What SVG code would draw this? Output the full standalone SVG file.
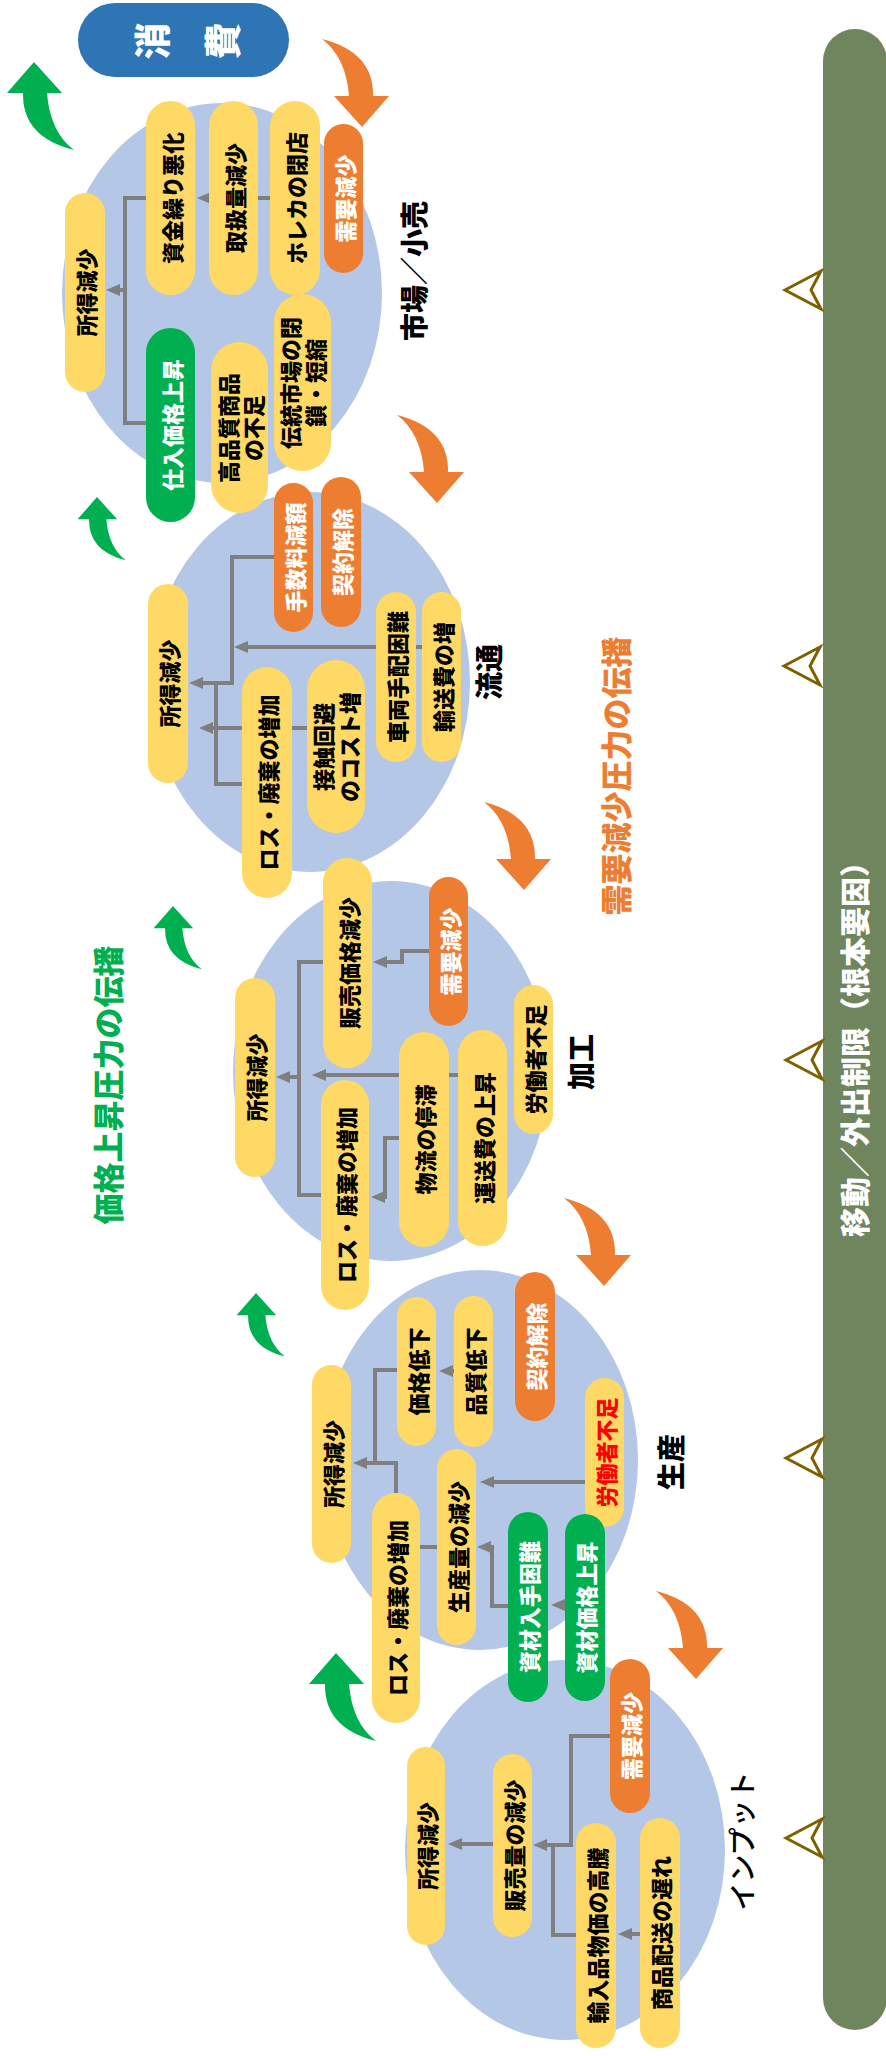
<svg xmlns="http://www.w3.org/2000/svg" width="886" height="2056" viewBox="0 0 886 2056">
  <style>
    .bg { fill: #B4C7E7; }
    .y { fill: #FFD966; }
    .o { fill: #ED7D31; }
    .g { fill: #00B050; }
    .t { font-family: "Noto Sans CJK JP", "Noto Sans", sans-serif; font-weight: 900; font-size: 22px; text-anchor: middle; dominant-baseline: central; }
    .k { fill: #000000; }
    .w { fill: #FFFFFF; }
    .r { fill: #FF0000; }
    .stage { font-family: "Noto Sans CJK JP", "Noto Sans", sans-serif; font-weight: 900; font-size: 28px; text-anchor: middle; dominant-baseline: central; fill: #000000; }
    .conn { fill: none; stroke: #7F7F7F; stroke-width: 4; stroke-linejoin: miter; }
    .tri { fill: #FFFFFF; stroke: #7F6000; stroke-width: 3; stroke-linejoin: miter; }
  </style>
  <defs>
    <marker id="ah" markerUnits="userSpaceOnUse" markerWidth="14" markerHeight="12" viewBox="0 0 14 12" refX="6" refY="6" orient="auto">
      <path d="M0,0 L14,6 L0,12 Z" fill="#7F7F7F"/>
    </marker>
    <!-- curved block arrow, tip at origin, tail sweeping down-right -->
    <path id="curl" d="M0,0 L28,31 L13,31 Q16,70 40,88 Q-12,75 -11,31 L-27,31 Z"/>
    <path id="dart" d="M0,0 L36,-19 L26,0 L36,19 Z"/>
  </defs>

  <!-- root cause bar -->
  <g id="root-cause">
    <rect x="823" y="29" width="64" height="2001" rx="32" fill="#6E855E"/>
    <text class="t w" x="853" y="1042" transform="rotate(-90 853 1042)" style="font-size:30px">移動／外出制限（根本要因）</text>
  </g>
  <g id="impact-marks">
    <use href="#dart" class="tri" x="785" y="290"/>
    <use href="#dart" class="tri" x="784" y="666"/>
    <use href="#dart" class="tri" x="786" y="1060"/>
    <use href="#dart" class="tri" x="786" y="1458"/>
    <use href="#dart" class="tri" x="786" y="1838"/>
  </g>

  <!-- stage backgrounds -->
  <g id="stages">
    <ellipse class="bg" cx="222" cy="293" rx="160" ry="190"/>
    <ellipse class="bg" cx="310" cy="682" rx="160" ry="190"/>
    <ellipse class="bg" cx="391" cy="1071" rx="158" ry="190"/>
    <ellipse class="bg" cx="480" cy="1460" rx="158" ry="190"/>
    <ellipse class="bg" cx="565" cy="1850" rx="160" ry="190"/>
  </g>

  <!-- propagation arrows -->
  <g id="demand-arrows" fill="#ED7D31">
    <use href="#curl" transform="translate(362,127) rotate(180)"/>
    <use href="#curl" transform="translate(437,503) rotate(180)"/>
    <use href="#curl" transform="translate(524,890) rotate(180)"/>
    <use href="#curl" transform="translate(604,1286) rotate(180)"/>
    <use href="#curl" transform="translate(696,1679) rotate(180)"/>
  </g>
  <g id="price-arrows" fill="#00B050">
    <use href="#curl" transform="translate(34,62)"/>
    <use href="#curl" transform="translate(97,497) scale(0.72)"/>
    <use href="#curl" transform="translate(173,906) scale(0.72)"/>
    <use href="#curl" transform="translate(256,1293) scale(0.72)"/>
    <use href="#curl" transform="translate(336,1653)"/>
  </g>

  <g id="legend-demand">
    <text class="t" x="614" y="776" transform="rotate(-90 614 776)" style="font-size:31px;fill:#ED7D31">需要減少圧力の伝播</text>
  </g>
  <g id="legend-price">
    <text class="t" x="106" y="1085" transform="rotate(-90 106 1085)" style="font-size:31px;fill:#00B050">価格上昇圧力の伝播</text>
  </g>

  <!-- connectors -->
  <g id="connectors">
    <path class="conn" d="M270,198 H205" marker-end="url(#ah)"/>
    <path class="conn" d="M146,198 H125 V423 H146"/>
    <path class="conn" d="M125,290 H114" marker-end="url(#ah)"/>
    <path class="conn" d="M274,557 H232 V683 H197" marker-end="url(#ah)"/>
    <path class="conn" d="M422,647 H242" marker-end="url(#ah)"/>
    <path class="conn" d="M242,784 H216 V683"/>
    <path class="conn" d="M307,728 H207" marker-end="url(#ah)"/>
    <path class="conn" d="M429,951 H402 V962 H381" marker-end="url(#ah)"/>
    <path class="conn" d="M323,962 H299 V1195 H321"/>
    <path class="conn" d="M299,1077 H284" marker-end="url(#ah)"/>
    <path class="conn" d="M458,1075 H320" marker-end="url(#ah)"/>
    <path class="conn" d="M399,1138 H385 V1197 H379" marker-end="url(#ah)"/>
    <path class="conn" d="M454,1371 H447" marker-end="url(#ah)"/>
    <path class="conn" d="M397,1370 H375 V1463 H361" marker-end="url(#ah)"/>
    <path class="conn" d="M396,1493 V1463 H375"/>
    <path class="conn" d="M585,1482 H488" marker-end="url(#ah)"/>
    <path class="conn" d="M420,1547 H437"/>
    <path class="conn" d="M508,1606 H492 V1547 H485" marker-end="url(#ah)"/>
    <path class="conn" d="M565,1605 H559" marker-end="url(#ah)"/>
    <path class="conn" d="M610,1736 H571 V1845 H541" marker-end="url(#ah)"/>
    <path class="conn" d="M576,1935 H553 V1845"/>
    <path class="conn" d="M493,1844 H456" marker-end="url(#ah)"/>
    <path class="conn" d="M640,1934 H626" marker-end="url(#ah)"/>
  </g>

  <!-- consumption -->
  <g id="consumption">
    <rect x="78" y="3" width="211" height="74" rx="37" fill="#2E75B6"/>
    <text class="t w" x="151" y="41" transform="rotate(-90 151 41)" style="font-size:37px">消</text>
    <text class="t w" x="221" y="41" transform="rotate(-90 221 41)" style="font-size:37px">費</text>
  </g>

  <!-- market / retail -->
  <g id="m-income"><rect class="y" x="65" y="193" width="40" height="199" rx="20"/><text class="t k" x="85" y="292.5" transform="rotate(-90 85 292.5)">所得減少</text></g>
  <g id="m-cashflow"><rect class="y" x="146" y="101" width="49" height="194" rx="24.5"/><text class="t k" x="170.5" y="198" transform="rotate(-90 170.5 198)">資金繰り悪化</text></g>
  <g id="m-volume"><rect class="y" x="209" y="101" width="49" height="194" rx="24.5"/><text class="t k" x="233.5" y="198" transform="rotate(-90 233.5 198)">取扱量減少</text></g>
  <g id="m-horeca"><rect class="y" x="270" y="101" width="50" height="194" rx="25"/><text class="t k" x="295" y="198" transform="rotate(-90 295 198)">ホレカの閉店</text></g>
  <g id="m-demand"><rect class="o" x="324" y="124" width="39" height="149" rx="19.5"/><text class="t w" x="343.5" y="198.5" transform="rotate(-90 343.5 198.5)">需要減少</text></g>
  <g id="m-purchase"><rect class="g" x="146" y="328" width="49" height="194" rx="24.5"/><text class="t w" x="170.5" y="425" transform="rotate(-90 170.5 425)">仕入価格上昇</text></g>
  <g id="m-quality"><rect class="y" x="211" y="342" width="57" height="171" rx="28.5"/><text class="t k" x="226.5" y="428" transform="rotate(-90 226.5 428)">高品質商品</text><text class="t k" x="252" y="428" transform="rotate(-90 252 428)">の不足</text></g>
  <g id="m-closure"><rect class="y" x="274" y="294" width="57" height="177" rx="28.5"/><text class="t k" x="289" y="383" transform="rotate(-90 289 383)">伝統市場の閉</text><text class="t k" x="314" y="383" transform="rotate(-90 314 383)">鎖・短縮</text></g>
  <g id="m-label"><text class="stage" x="413" y="271" transform="rotate(-90 413 271)">市場／小売</text></g>

  <!-- distribution -->
  <g id="d-fee"><rect class="o" x="274" y="483" width="39" height="149" rx="19.5"/><text class="t w" x="293.5" y="557.5" transform="rotate(-90 293.5 557.5)">手数料減額</text></g>
  <g id="d-cancel"><rect class="o" x="321" y="477" width="40" height="150" rx="20"/><text class="t w" x="341" y="552" transform="rotate(-90 341 552)">契約解除</text></g>
  <g id="d-vehicle"><rect class="y" x="376" y="592" width="40" height="170" rx="20"/><text class="t k" x="396" y="677" transform="rotate(-90 396 677)">車両手配困難</text></g>
  <g id="d-freight"><rect class="y" x="422" y="592" width="39" height="170" rx="19.5"/><text class="t k" x="441.5" y="677" transform="rotate(-90 441.5 677)">輸送費の増</text></g>
  <g id="d-income"><rect class="y" x="148" y="584" width="40" height="199" rx="20"/><text class="t k" x="168" y="683.5" transform="rotate(-90 168 683.5)">所得減少</text></g>
  <g id="d-loss"><rect class="y" x="242" y="667" width="50" height="231" rx="25"/><text class="t k" x="267" y="782.5" transform="rotate(-90 267 782.5)">ロス・廃棄の増加</text></g>
  <g id="d-contact"><rect class="y" x="307" y="660" width="58" height="173" rx="29"/><text class="t k" x="322" y="747" transform="rotate(-90 322 747)">接触回避</text><text class="t k" x="348" y="747" transform="rotate(-90 348 747)">のコスト増</text></g>
  <g id="d-label"><text class="stage" x="488" y="672" transform="rotate(-90 488 672)">流通</text></g>

  <!-- processing -->
  <g id="p-price"><rect class="y" x="323" y="858" width="49" height="210" rx="24.5"/><text class="t k" x="347.5" y="963" transform="rotate(-90 347.5 963)">販売価格減少</text></g>
  <g id="p-demand"><rect class="o" x="429" y="877" width="39" height="149" rx="19.5"/><text class="t w" x="448.5" y="951.5" transform="rotate(-90 448.5 951.5)">需要減少</text></g>
  <g id="p-labour"><rect class="y" x="514" y="985" width="39" height="149" rx="19.5"/><text class="t k" x="533.5" y="1059.5" transform="rotate(-90 533.5 1059.5)">労働者不足</text></g>
  <g id="p-income"><rect class="y" x="235" y="978" width="40" height="199" rx="20"/><text class="t k" x="255" y="1077.5" transform="rotate(-90 255 1077.5)">所得減少</text></g>
  <g id="p-loss"><rect class="y" x="321" y="1080" width="48" height="230" rx="24"/><text class="t k" x="345" y="1195" transform="rotate(-90 345 1195)">ロス・廃棄の増加</text></g>
  <g id="p-logistics"><rect class="y" x="399" y="1032" width="50" height="215" rx="25"/><text class="t k" x="424" y="1139.5" transform="rotate(-90 424 1139.5)">物流の停滞</text></g>
  <g id="p-freight"><rect class="y" x="458" y="1030" width="49" height="216" rx="24.5"/><text class="t k" x="482.5" y="1138" transform="rotate(-90 482.5 1138)">運送費の上昇</text></g>
  <g id="p-label"><text class="stage" x="580" y="1062" transform="rotate(-90 580 1062)">加工</text></g>

  <!-- production -->
  <g id="f-cancel"><rect class="o" x="515" y="1272" width="40" height="149" rx="20"/><text class="t w" x="535" y="1346.5" transform="rotate(-90 535 1346.5)">契約解除</text></g>
  <g id="f-price"><rect class="y" x="397" y="1297" width="39" height="149" rx="19.5"/><text class="t k" x="416.5" y="1371.5" transform="rotate(-90 416.5 1371.5)">価格低下</text></g>
  <g id="f-quality"><rect class="y" x="454" y="1296" width="39" height="151" rx="19.5"/><text class="t k" x="473.5" y="1371.5" transform="rotate(-90 473.5 1371.5)">品質低下</text></g>
  <g id="f-income"><rect class="y" x="312" y="1365" width="39" height="198" rx="19.5"/><text class="t k" x="331.5" y="1464" transform="rotate(-90 331.5 1464)">所得減少</text></g>
  <g id="f-loss"><rect class="y" x="372" y="1493" width="48" height="230" rx="24"/><text class="t k" x="396" y="1608" transform="rotate(-90 396 1608)">ロス・廃棄の増加</text></g>
  <g id="f-output"><rect class="y" x="437" y="1449" width="39" height="196" rx="19.5"/><text class="t k" x="456.5" y="1547" transform="rotate(-90 456.5 1547)">生産量の減少</text></g>
  <g id="f-labour"><rect class="y" x="585" y="1378" width="39" height="149" rx="19.5"/><text class="t r" x="604.5" y="1452.5" transform="rotate(-90 604.5 1452.5)">労働者不足</text></g>
  <g id="f-supply"><rect class="g" x="508" y="1512" width="40" height="190" rx="20"/><text class="t w" x="528" y="1607" transform="rotate(-90 528 1607)">資材入手困難</text></g>
  <g id="f-cost"><rect class="g" x="565" y="1514" width="40" height="187" rx="20"/><text class="t w" x="585" y="1607.5" transform="rotate(-90 585 1607.5)">資材価格上昇</text></g>
  <g id="f-label"><text class="stage" x="670" y="1462" transform="rotate(-90 670 1462)">生産</text></g>

  <!-- input -->
  <g id="i-demand"><rect class="o" x="610" y="1659" width="40" height="154" rx="20"/><text class="t w" x="630" y="1736" transform="rotate(-90 630 1736)">需要減少</text></g>
  <g id="i-income"><rect class="y" x="407" y="1747" width="38" height="198" rx="19"/><text class="t k" x="426" y="1846" transform="rotate(-90 426 1846)">所得減少</text></g>
  <g id="i-sales"><rect class="y" x="493" y="1754" width="39" height="183" rx="19.5"/><text class="t k" x="512.5" y="1845.5" transform="rotate(-90 512.5 1845.5)">販売量の減少</text></g>
  <g id="i-import"><rect class="y" x="576" y="1823" width="40" height="225" rx="20"/><text class="t k" x="596" y="1935.5" transform="rotate(-90 596 1935.5)">輸入品物価の高騰</text></g>
  <g id="i-delivery"><rect class="y" x="640" y="1818" width="40" height="230" rx="20"/><text class="t k" x="660" y="1933" transform="rotate(-90 660 1933)">商品配送の遅れ</text></g>
  <g id="i-label"><text class="stage" x="741" y="1841" transform="rotate(-90 741 1841)" style="font-weight:500">インプット</text></g>
</svg>
